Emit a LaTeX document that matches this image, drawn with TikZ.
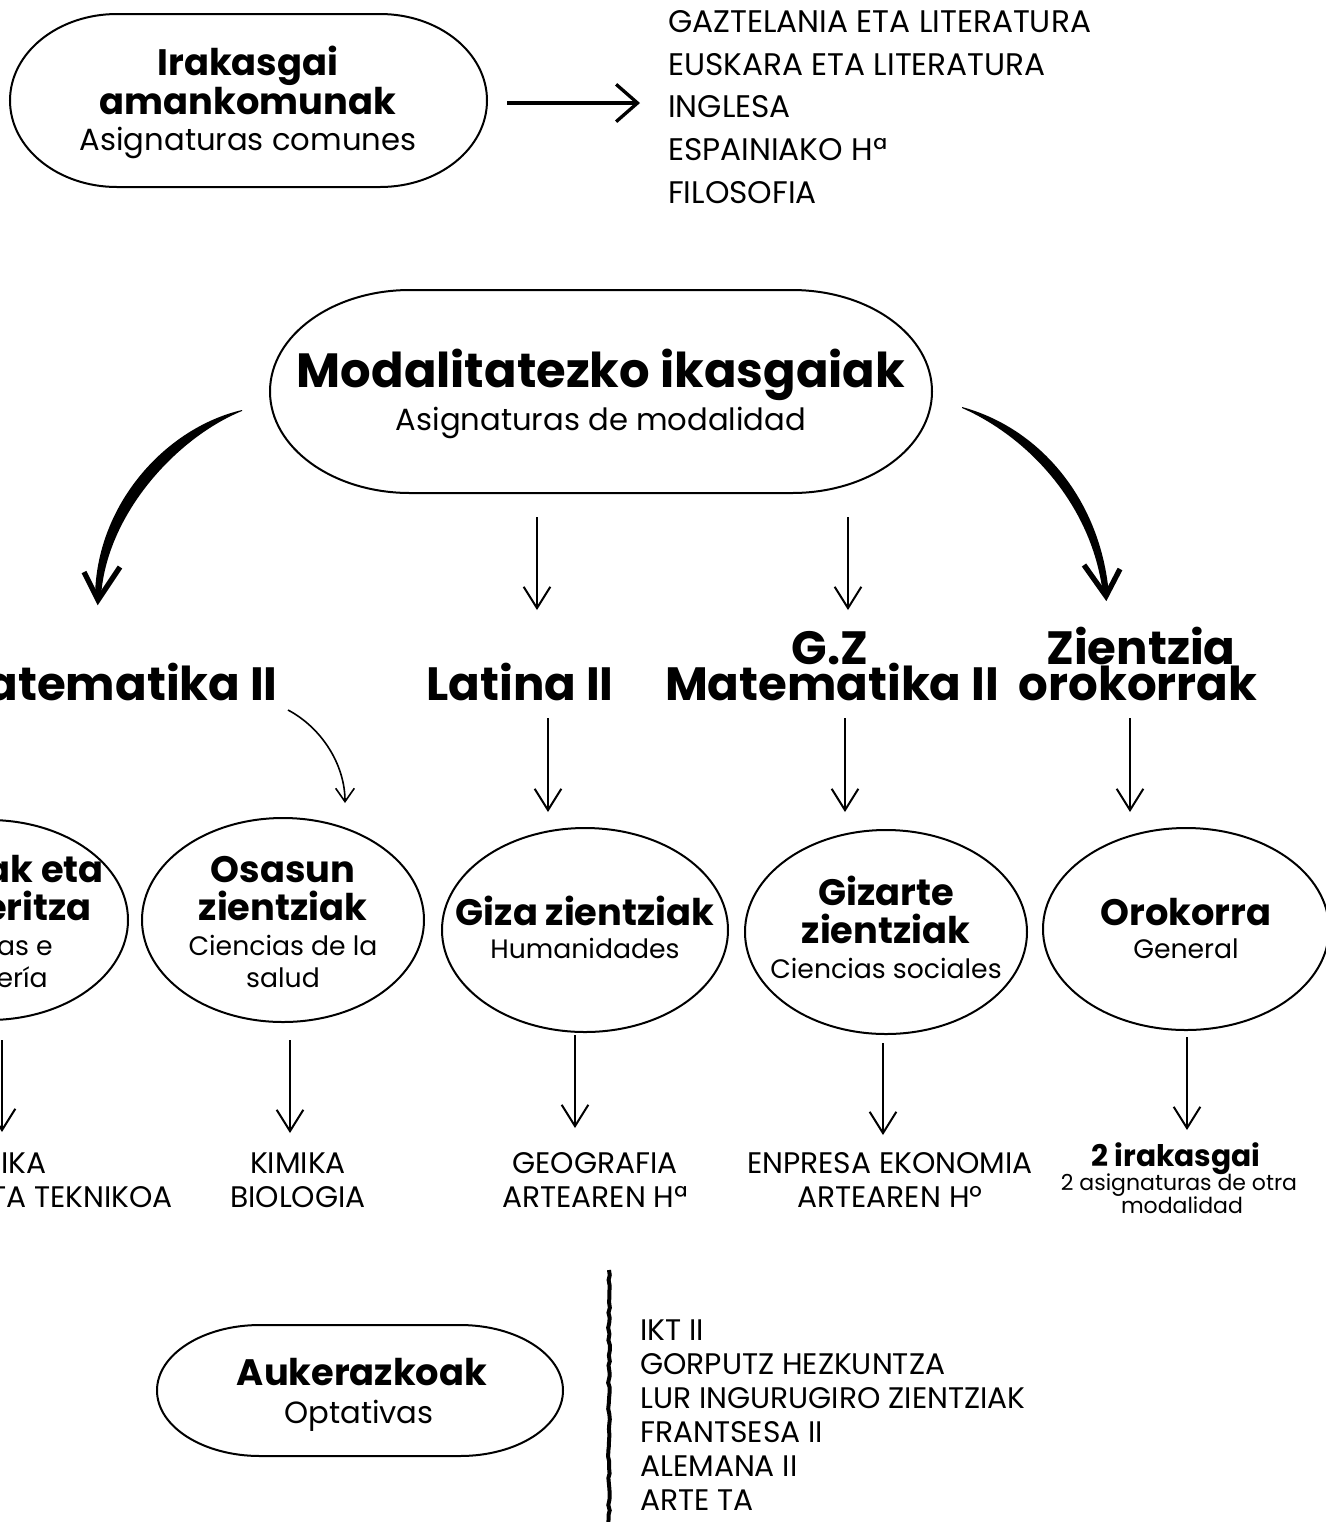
\documentclass[tikz,border=0pt]{standalone}
\usepackage{fontspec}
\setmainfont{Poppins}
\usetikzlibrary{arrows.meta,decorations.pathmorphing}
\newcommand\fsBig{\fontsize{36pt}{40pt}\selectfont}
\newcommand\fsHead{\fontsize{35pt}{38pt}\selectfont}
\newcommand\fsTitle{\fontsize{27.6pt}{30pt}\selectfont}
\newcommand\fsSub{\fontsize{20pt}{24pt}\selectfont}
\newcommand\fsSubL{\fontsize{23pt}{27pt}\selectfont}
\newcommand\fsListA{\fontsize{23.4pt}{27pt}\selectfont}
\newcommand\fsListB{\fontsize{22.3pt}{26pt}\selectfont}
\newcommand\fsSmallT{\fontsize{22.3pt}{25pt}\selectfont}
\newcommand\fsSmallS{\fontsize{16.5pt}{19pt}\selectfont}
\tikzset{
  txt/.style={inner sep=0pt, anchor=base},
  ttl/.style={txt, font=\bfseries\fsTitle},
  sub/.style={txt, font=\fsSub},
  subl/.style={txt, font=\fsSubL},
  lsta/.style={txt, anchor=base west, font=\fsListA},
  lstb/.style={txt, anchor=base west, font=\fsListB},
  lbl/.style={txt, font=\fsListB},
  hd/.style={txt, font=\bfseries\fsHead},
  outline/.style={line width=1.5pt},
  thinarr/.style={line width=1.5pt, -{Straight Barb[length=16pt,width=20pt,line width=1.5pt]}},
  chev/.style={line width=4pt, line join=miter, line cap=butt},
}
\begin{document}
\begin{tikzpicture}[x=0.75pt,y=-0.75pt]
\clip (0,0) rectangle (1326,1522);
\fill[white] (0,0) rectangle (1326,1522);

% ---------- top: common subjects ----------
\draw[outline] (117,14) -- (380,14) arc[start angle=-90,end angle=90,x radius=107,y radius=86.5]
  -- (117,187) arc[start angle=90,end angle=270,x radius=107,y radius=86.5] -- cycle;
\node[ttl] (ira1) at (248,75) {Irakasgai};
\node[ttl] (ira2) at (248,114) {amankomunak};
\node[subl] (ira3) at (248,150) {Asignaturas comunes};
\coordinate (c1s) at (507,103);
\coordinate (c1e) at (640,103);
\draw[line width=2.5pt, -{Straight Barb[length=16pt,width=28pt,line width=2.5pt]}] (c1s) -- (c1e);
\node[lsta] (l1) at (668,32) {GAZTELANIA ETA LITERATURA};
\node[lsta] (l2) at (668,75) {EUSKARA ETA LITERATURA};
\node[lsta] (l3) at (668,117) {INGLESA};
\node[lsta] (l4) at (668,160) {ESPAINIAKO Hª};
\node[lsta] (l5) at (668,203) {FILOSOFIA};

% ---------- modality ----------
\draw[outline] (410,290) -- (792,290) arc[start angle=-90,end angle=90,x radius=140,y radius=101.5]
  -- (410,493) arc[start angle=90,end angle=270,x radius=140,y radius=101.5] -- cycle;
\node[txt, font=\bfseries\fsBig] (mod1) at (601,387) {Modalitatezko ikasgaiak};
\node[subl] (mod2) at (601,430) {Asignaturas de modalidad};

% thick curved arrows
\fill (242,410) .. controls (165,428) and (96,505) .. (95,597)
  -- (101,597) .. controls (106,515) and (176,438) .. (242,411) -- cycle;
\draw[chev] (84,572) -- (98,600) -- (120,567);
\fill (962,407) .. controls (1040,428) and (1101,500) .. (1109,595)
  -- (1103,595) .. controls (1093,507) and (1030,438) .. (962,408) -- cycle;
\draw[chev] (1084,565) -- (1106,596) -- (1120,569);

\coordinate (a1s) at (537,517); \coordinate (a1e) at (537,610);
\coordinate (a2s) at (848,517); \coordinate (a2e) at (848,610);
\draw[thinarr] (a1s) -- (a1e);
\draw[thinarr] (a2s) -- (a2e);

% ---------- headings ----------
\node[hd, anchor=base east] (h1) at (278,700) {atematika II};
\node[hd] (h2) at (520,700) {Latina II};
\node[hd] (h3a) at (830,664) {G.Z};
\node[hd] (h3b) at (832,700) {Matematika II};
\node[hd] (h4a) at (1141,664) {Zientzia};
\node[hd] (h4b) at (1138,700) {orokorrak};

\coordinate (cs) at (288,710); \coordinate (ce) at (345,803);
\draw[line width=1.2pt, -{Straight Barb[length=10pt,width=14pt,line width=1.2pt]}]
  (cs) .. controls (322,728) and (345,765) .. (ce);
\coordinate (b2s) at (548,718); \coordinate (b2e) at (548,812);
\coordinate (b3s) at (845,718); \coordinate (b3e) at (845,812);
\coordinate (b4s) at (1130,718); \coordinate (b4e) at (1130,812);
\draw[thinarr] (b2s) -- (b2e);
\draw[thinarr] (b3s) -- (b3e);
\draw[thinarr] (b4s) -- (b4e);

% ---------- ellipses ----------
\draw[outline] (-11,920) ellipse[x radius=139,y radius=100];
\node[ttl, anchor=base east] (e0a) at (104,882) {ak eta};
\node[ttl, anchor=base east] (e0b) at (92,920) {eritza};
\node[sub, anchor=base east] (e0c) at (53,955) {as e};
\node[sub, anchor=base east] (e0d) at (48,987) {ería};

\draw[outline] (283,920) ellipse[x radius=141,y radius=102];
\node[ttl] (e1a) at (283,882) {Osasun};
\node[ttl] (e1b) at (283,920) {zientziak};
\node[sub] (e1c) at (283,955) {Ciencias de la};
\node[sub] (e1d) at (283,987) {salud};

\draw[outline] (585,930) ellipse[x radius=143,y radius=102];
\node[ttl] (e2a) at (585,925) {Giza zientziak};
\node[sub] (e2b) at (585,958) {Humanidades};

\draw[outline] (886,932) ellipse[x radius=141,y radius=102];
\node[ttl] (e3a) at (886,905) {Gizarte};
\node[ttl] (e3b) at (886,943) {zientziak};
\node[sub] (e3c) at (886,978) {Ciencias sociales};

\draw[outline] (1186,929) ellipse[x radius=143,y radius=101];
\node[ttl] (e4a) at (1186,925) {Orokorra};
\node[sub] (e4b) at (1186,958) {General};

% ---------- lower arrows ----------
\coordinate (d0s) at (2,1040); \coordinate (d0e) at (2,1132);
\coordinate (d1s) at (290,1040); \coordinate (d1e) at (290,1133);
\coordinate (d2s) at (575,1035); \coordinate (d2e) at (575,1128);
\coordinate (d3s) at (883,1043); \coordinate (d3e) at (883,1135);
\coordinate (d4s) at (1187,1037); \coordinate (d4e) at (1187,1130);
\foreach \n in {0,1,2,3,4} \draw[thinarr] (d\n s) -- (d\n e);

% ---------- bottom labels ----------
\node[lbl, anchor=base east] (f0a) at (47,1173) {IKA};
\node[lbl, anchor=base east] (f0b) at (173,1207) {TA TEKNIKOA};
\node[lbl] (f1a) at (298,1173) {KIMIKA};
\node[lbl] (f1b) at (298,1207) {BIOLOGIA};
\node[lbl] (f2a) at (595,1173) {GEOGRAFIA};
\node[lbl] (f2b) at (595,1207) {ARTEAREN Hª};
\node[lbl] (f3a) at (890,1173) {ENPRESA EKONOMIA};
\node[lbl] (f3b) at (890,1207) {ARTEAREN Hº};
\node[txt, font=\bfseries\fsSmallT] (f4a) at (1176,1166) {2 irakasgai};
\node[txt, font=\fsSmallS] (f4b) at (1179,1190) {2 asignaturas de otra};
\node[txt, font=\fsSmallS] (f4c) at (1182,1213) {modalidad};

% ---------- optatives ----------
\draw[outline] (260,1325) -- (460,1325) arc[start angle=-90,end angle=90,x radius=103,y radius=65.5]
  -- (260,1456) arc[start angle=90,end angle=270,x radius=103,y radius=65.5] -- cycle;
\node[ttl] (o1) at (362,1385) {Aukerazkoak};
\node[subl] (o2) at (359,1423) {Optativas};

\coordinate (vs) at (609,1270); \coordinate (ve) at (609,1530);
\draw[line width=3pt, decorate, decoration={random steps,segment length=4pt,amplitude=0.7pt}] (vs) -- (ve);

\node[lstb] (p1) at (640,1340) {IKT II};
\node[lstb] (p2) at (640,1374) {GORPUTZ HEZKUNTZA};
\node[lstb] (p3) at (640,1408) {LUR INGURUGIRO ZIENTZIAK};
\node[lstb] (p4) at (640,1442) {FRANTSESA II};
\node[lstb] (p5) at (640,1476) {ALEMANA II};
\node[lstb] (p6) at (640,1510) {ARTE TA};
\end{tikzpicture}
\end{document}
